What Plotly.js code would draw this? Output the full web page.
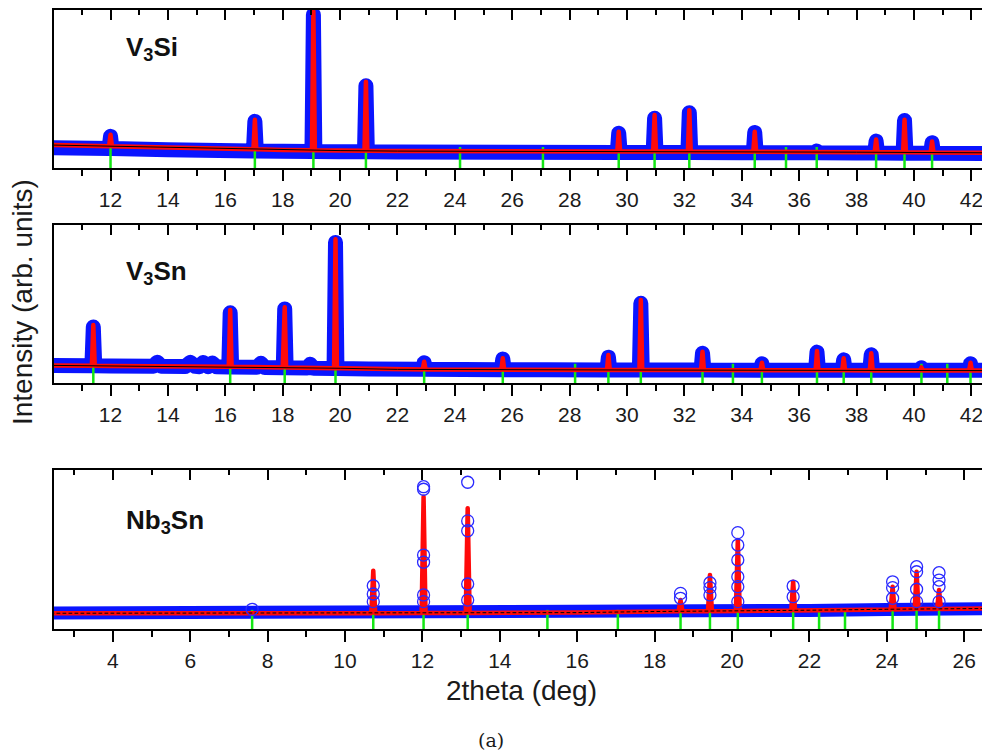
<!DOCTYPE html>
<html>
<head>
<meta charset="utf-8">
<script src="https://cdn.plot.ly/plotly-3.0.1.min.js"></script>
<style>
  html, body { margin: 0; padding: 0; background: #fff; }
  #chart { width: 982px; height: 756px; }
  .js-line { stroke-linejoin: round; stroke-linecap: round; }
</style>
</head>
<body>
<div id="chart"></div>
<script>
// ---------------- V3Si (top panel) ----------------
const v3si_obs_x = [10.0, 11.0, 11.95, 12.0, 12.05, 14.0, 16.0, 16.98, 17.03, 17.08, 18.0, 19.02, 19.07, 19.12, 20.0, 20.85, 20.9, 20.95, 22.0, 24.13, 24.18, 24.23, 26.0, 27.02, 27.07, 27.12, 29.66, 29.71, 29.76, 30.91, 30.96, 31.01, 32.12, 32.17, 32.22, 34.0, 34.4, 34.45, 34.5, 36.56, 36.61, 36.66, 38.0, 38.63, 38.68, 38.73, 39.62, 39.67, 39.72, 40.58, 40.63, 40.68, 42.5];
const v3si_obs_y = [12.8, 12.5, 12.3, 20, 12.3, 11.6, 11.0, 10.8, 29.5, 10.8, 10.6, 10.4, 97, 10.4, 10.3, 10.2, 52, 10.2, 10.1, 10.0, 11.5, 10.0, 10.0, 9.9, 11.5, 9.9, 9.8, 22, 9.8, 9.8, 31.5, 9.8, 9.8, 35, 9.8, 9.7, 9.7, 22.5, 9.7, 9.6, 10.8, 9.6, 9.5, 9.5, 17, 9.5, 9.4, 30, 9.4, 9.4, 16, 9.4, 9.2];
const v3si_calc_x = [10.0, 11.95, 12.0, 12.05, 14.0, 16.0, 16.98, 17.03, 17.08, 18.0, 19.02, 19.07, 19.12, 20.0, 20.85, 20.9, 20.95, 22.0, 24.18, 26.0, 29.66, 29.71, 29.76, 30.91, 30.96, 31.01, 32.12, 32.17, 32.22, 34.0, 34.4, 34.45, 34.5, 38.0, 38.63, 38.68, 38.73, 39.62, 39.67, 39.72, 40.58, 40.63, 40.68, 42.5];
const v3si_calc_y = [14.5, 13.8, 21, 13.8, 12.9, 12.0, 11.8, 30.5, 11.8, 11.4, 11.2, 99, 11.2, 11.0, 10.9, 54.5, 10.9, 10.7, 10.65, 10.6, 10.5, 23, 10.5, 10.5, 33.5, 10.5, 10.45, 36.5, 10.45, 10.3, 10.3, 23, 10.3, 10.0, 10.0, 18, 10.0, 9.9, 30.5, 9.9, 9.85, 16.8, 9.85, 9.6];
const v3si_bg_x = [10, 12, 14, 16, 18, 20, 22, 26, 30, 34, 38, 42.5];
const v3si_bg_y = [14.5, 13.8, 12.9, 12.0, 11.4, 11.0, 10.7, 10.6, 10.5, 10.3, 10.0, 9.6];
const v3si_bragg = [12.0, 17.03, 19.07, 20.9, 24.18, 27.07, 29.71, 30.96, 32.17, 34.45, 35.54, 36.61, 38.68, 39.67, 40.63];

// ---------------- V3Sn (middle panel) ----------------
const v3sn_obs_x = [10.0, 11.35, 11.4, 11.45, 12.0, 13.5, 13.63, 13.76, 14.6, 14.78, 14.95, 15.1, 15.23, 15.4, 15.55, 15.7, 16.12, 16.17, 16.22, 17.1, 17.24, 17.38, 18.02, 18.07, 18.12, 18.85, 18.96, 19.08, 19.79, 19.84, 19.89, 21.0, 22.88, 22.93, 22.98, 25.62, 25.67, 25.72, 27.05, 27.13, 27.2, 29.3, 29.35, 29.4, 30.43, 30.48, 30.53, 32.58, 32.63, 32.68, 34.65, 34.7, 34.75, 36.57, 36.62, 36.67, 37.5, 37.55, 37.6, 38.46, 38.51, 38.56, 40.21, 40.26, 40.31, 41.92, 41.97, 42.02, 42.5];
const v3sn_obs_y = [11.3, 11.1, 35.5, 11.1, 11.0, 10.8, 13.3, 10.8, 10.6, 13.2, 10.7, 10.5, 13.2, 10.5, 12.8, 10.4, 10.3, 44.5, 10.3, 10.1, 12.6, 10.0, 9.8, 47, 9.8, 9.6, 12.0, 9.5, 9.4, 89, 9.4, 9.0, 8.8, 13, 8.8, 8.6, 15.3, 8.6, 8.5, 9.8, 8.5, 8.4, 16.5, 8.4, 8.4, 50.5, 8.4, 8.4, 19, 8.4, 8.3, 12.3, 8.3, 8.3, 19.7, 8.3, 8.3, 14.8, 8.3, 8.3, 18, 8.3, 8.2, 9.8, 8.2, 8.2, 12.3, 8.2, 8.2];
const v3sn_calc_x = [10.0, 11.35, 11.4, 11.45, 12.0, 14.0, 16.0, 16.12, 16.17, 16.22, 18.0, 18.07, 18.12, 19.79, 19.84, 19.89, 20.0, 22.0, 22.88, 22.93, 22.98, 25.62, 25.67, 25.72, 29.3, 29.35, 29.4, 30.43, 30.48, 30.53, 32.58, 32.63, 32.68, 34.65, 34.7, 34.75, 36.57, 36.62, 36.67, 37.5, 37.55, 37.6, 38.46, 38.51, 38.56, 40.21, 40.26, 40.31, 41.92, 41.97, 42.02, 42.5];
const v3sn_calc_y = [11.3, 11.1, 36.8, 11.1, 11.0, 10.8, 10.5, 10.45, 46.3, 10.45, 10.0, 48, 10.0, 9.55, 91, 9.55, 9.5, 8.8, 8.75, 13.6, 8.75, 8.5, 15.8, 8.5, 8.4, 17.9, 8.4, 8.4, 52.6, 8.4, 8.35, 20, 8.35, 8.3, 13, 8.3, 8.2, 20.4, 8.2, 8.2, 15.8, 8.2, 8.15, 19, 8.15, 8.1, 10, 8.1, 8.05, 13, 8.05, 8.0];
const v3sn_bg_x = [10, 12, 14, 16, 18, 20, 22, 26, 30, 42.5];
const v3sn_bg_y = [11.3, 11.0, 10.8, 10.5, 10.0, 9.5, 8.8, 8.5, 8.4, 8.0];
const v3sn_bragg = [11.4, 16.17, 18.07, 19.84, 22.93, 25.67, 28.19, 29.35, 30.48, 32.63, 33.69, 34.7, 36.62, 37.55, 38.51, 40.26, 41.16, 41.97];

// ---------------- Nb3Sn (bottom panel) ----------------
const nb3sn_band_x = [2.4, 6, 10, 14, 16, 18, 20, 22, 24, 26.6];
const nb3sn_band_y = [10.0, 10.0, 10.1, 10.3, 10.6, 11.0, 11.3, 11.7, 12.2, 12.7];
const nb3sn_pts_x = [7.6, 10.73, 10.73, 10.73, 12.03, 12.03, 12.03, 12.03, 12.03, 12.03, 13.17, 13.17, 13.17, 13.17, 13.17, 18.67, 18.67, 19.43, 19.43, 19.43, 20.15, 20.15, 20.15, 20.15, 20.15, 20.15, 21.58, 21.58, 24.15, 24.15, 24.15, 24.77, 24.77, 24.77, 24.77, 25.35, 25.35, 25.35, 25.35];
const nb3sn_pts_y = [12.4, 27.2, 22, 17.2, 89.5, 87.9, 46.5, 42, 21.4, 17.2, 92.3, 68, 61.8, 28.3, 18.2, 22.4, 19.3, 29.1, 26, 21.4, 60.6, 52.8, 43.4, 32.9, 26.6, 17.2, 27, 20.3, 29.7, 26, 19.3, 39.2, 36, 25, 17.2, 35.4, 30.8, 26.6, 17.2];
const nb3sn_calc_x = [2.4, 10.68, 10.73, 10.78, 11.98, 12.03, 12.08, 13.12, 13.17, 13.22, 16.0, 18.0, 18.62, 18.67, 18.72, 19.38, 19.43, 19.48, 20.1, 20.15, 20.2, 21.53, 21.58, 21.63, 22.0, 24.0, 24.1, 24.15, 24.2, 24.72, 24.77, 24.82, 25.3, 25.35, 25.4, 26.6];
const nb3sn_calc_y = [9.9, 9.9, 36.7, 9.9, 10.0, 83.2, 10.0, 10.1, 76, 10.1, 10.3, 11.0, 11.1, 18.2, 11.1, 11.2, 34, 11.2, 11.3, 56, 11.3, 11.6, 29.7, 11.6, 11.8, 12.3, 12.3, 26.6, 12.3, 12.5, 36, 12.5, 12.6, 24.5, 12.6, 12.9];
const nb3sn_bg_x = [2.4, 10, 14, 16, 18, 20, 22, 24, 26.6];
const nb3sn_bg_y = [9.9, 9.9, 10.1, 10.3, 11.0, 11.3, 11.8, 12.4, 12.9];
const nb3sn_bragg = [7.6, 10.73, 12.03, 13.17, 15.23, 17.05, 18.67, 19.43, 20.15, 21.58, 22.25, 22.92, 24.15, 24.77, 25.35];

// tick labels / text
const panel_labels = ['<b>V<sub>3</sub>Si</b>', '<b>V<sub>3</sub>Sn</b>', '<b>Nb<sub>3</sub>Sn</b>'];
const x_title = '2theta (deg)';
const y_title = 'Intensity (arb. units)';
const caption = '(a)';

// ---------------- styles ----------------
const BLUE = '#0a14ff';
const RED = '#ff0a0a';
const GREEN = '#14e614';
const FONT = 'Liberation Sans, Arial, sans-serif';

const traces = [];
function addPanel(xa, ya, obsX, obsY, obsMode, calcX, calcY, bgX, bgY, bgDash, bragg, tickY) {
  if (obsMode === 'band') {
    traces.push({x: obsX, y: obsY, xaxis: xa, yaxis: ya, mode: 'lines', type: 'scatter',
      line: {color: BLUE, width: 15}, hoverinfo: 'skip', showlegend: false});
  }
  traces.push({x: bragg, y: bragg.map(() => tickY), xaxis: xa, yaxis: ya, mode: 'markers', type: 'scatter',
    marker: {symbol: 'line-ns-open', size: 16, color: GREEN, line: {color: GREEN, width: 2.5}}, hoverinfo: 'skip', showlegend: false});
  traces.push({x: calcX, y: calcY, xaxis: xa, yaxis: ya, mode: 'lines', type: 'scatter',
    line: {color: RED, width: 4.5}, hoverinfo: 'skip', showlegend: false});
  traces.push({x: bgX, y: bgY, xaxis: xa, yaxis: ya, mode: 'lines', type: 'scatter',
    line: {color: '#000', width: 1, dash: bgDash}, hoverinfo: 'skip', showlegend: false});
}

addPanel('x', 'y', v3si_obs_x, v3si_obs_y, 'band', v3si_calc_x, v3si_calc_y, v3si_bg_x, v3si_bg_y, 'solid', v3si_bragg, 6.2);
addPanel('x2', 'y2', v3sn_obs_x, v3sn_obs_y, 'band', v3sn_calc_x, v3sn_calc_y, v3sn_bg_x, v3sn_bg_y, 'solid', v3sn_bragg, 5.2);
// Nb3Sn: band first, then circles
traces.push({x: nb3sn_band_x, y: nb3sn_band_y, xaxis: 'x3', yaxis: 'y3', mode: 'lines', type: 'scatter',
  line: {color: BLUE, width: 13}, hoverinfo: 'skip', showlegend: false});
addPanel('x3', 'y3', null, null, 'none', nb3sn_calc_x, nb3sn_calc_y, nb3sn_bg_x, nb3sn_bg_y, 'dot', nb3sn_bragg, 5.0);
traces.push({x: nb3sn_pts_x, y: nb3sn_pts_y, xaxis: 'x3', yaxis: 'y3', mode: 'markers', type: 'scatter',
  marker: {symbol: 'circle-open', size: 12, color: '#2a2aff', line: {width: 1.3}}, hoverinfo: 'skip', showlegend: false});

// dummy traces so the mirrored top axes render
['x4', 'x5', 'x6'].forEach((xa, i) => {
  traces.push({x: [], y: [], xaxis: xa, yaxis: ['y', 'y2', 'y3'][i], mode: 'markers', type: 'scatter', showlegend: false, hoverinfo: 'skip'});
});

const RANGE_TOP = [10.03, 42.37];
const RANGE_BOT = [2.48, 26.46];

function bottomAxis(range, anchor) {
  return {
    range: range, anchor: anchor, domain: [0, 1],
    showline: true, linewidth: 2, linecolor: '#000', mirror: false,
    ticks: 'outside', ticklen: 11, tickwidth: 2, tickcolor: '#000',
    tick0: 0, dtick: 2,
    minor: {ticks: 'outside', ticklen: 6, tickwidth: 2, tickcolor: '#000', tick0: 0, dtick: 1, showgrid: false},
    showgrid: false, zeroline: false, fixedrange: true,
    tickfont: {family: FONT, size: 21, color: '#1a1a1a'},
    ticklabelstandoff: 1,
    ticklabeloverflow: 'allow'
  };
}
function topAxis(range, overlay, anchor) {
  return {
    range: range, overlaying: overlay, anchor: anchor, side: 'top',
    showline: true, linewidth: 2, linecolor: '#000',
    ticks: 'inside', ticklen: 10, tickwidth: 2, tickcolor: '#000',
    tick0: 0, dtick: 2,
    minor: {ticks: 'inside', ticklen: 5, tickwidth: 2, tickcolor: '#000', tick0: 0, dtick: 1, showgrid: false},
    showticklabels: false, showgrid: false, zeroline: false, fixedrange: true
  };
}
function leftAxis(domain, anchor) {
  return {
    domain: domain, anchor: anchor, range: [0, 100],
    showline: true, linewidth: 2, linecolor: '#000',
    ticks: '', showticklabels: false, showgrid: false, zeroline: false, fixedrange: true
  };
}

const layout = {
  width: 982, height: 756,
  margin: {l: 54, r: 0, t: 0, b: 0},
  paper_bgcolor: '#fff', plot_bgcolor: '#fff',
  showlegend: false,
  font: {family: FONT, color: '#1a1a1a'},
  xaxis: bottomAxis(RANGE_TOP, 'y'),
  xaxis2: bottomAxis(RANGE_TOP, 'y2'),
  xaxis3: bottomAxis(RANGE_BOT, 'y3'),
  xaxis4: topAxis(RANGE_TOP, 'x', 'y'),
  xaxis5: topAxis(RANGE_TOP, 'x2', 'y2'),
  xaxis6: topAxis(RANGE_BOT, 'x3', 'y3'),
  yaxis: leftAxis([0.7778, 0.9868], 'x'),
  yaxis2: leftAxis([0.4930, 0.7024], 'x2'),
  yaxis3: leftAxis([0.1680, 0.3783], 'x3'),
  annotations: [
    {text: panel_labels[0], xref: 'paper', yref: 'paper', x: 0.0754, y: 0.9365, xanchor: 'left', yanchor: 'middle', showarrow: false, font: {family: FONT, size: 26, color: '#111'}},
    {text: panel_labels[1], xref: 'paper', yref: 'paper', x: 0.0754, y: 0.6389, xanchor: 'left', yanchor: 'middle', showarrow: false, font: {family: FONT, size: 26, color: '#111'}},
    {text: panel_labels[2], xref: 'paper', yref: 'paper', x: 0.0754, y: 0.3099, xanchor: 'left', yanchor: 'middle', showarrow: false, font: {family: FONT, size: 26, color: '#111'}},
    {text: x_title, xref: 'paper', yref: 'paper', x: 0.5043, y: 0.0873, xanchor: 'center', yanchor: 'middle', showarrow: false, font: {family: FONT, size: 28, color: '#1a1a1a'}},
    {text: y_title, xref: 'paper', yref: 'paper', x: -0.0345, y: 0.6005, xanchor: 'center', yanchor: 'middle', textangle: -90, showarrow: false, font: {family: FONT, size: 28, color: '#1a1a1a'}},
    {text: caption, xref: 'paper', yref: 'paper', x: 0.4709, y: 0.0212, xanchor: 'center', yanchor: 'middle', showarrow: false, font: {family: 'DejaVu Serif, Liberation Serif, serif', size: 19, color: '#1a1a1a'}}
  ]
};

Plotly.newPlot('chart', traces, layout, {displayModeBar: false, staticPlot: true});
</script>
</body>
</html>
